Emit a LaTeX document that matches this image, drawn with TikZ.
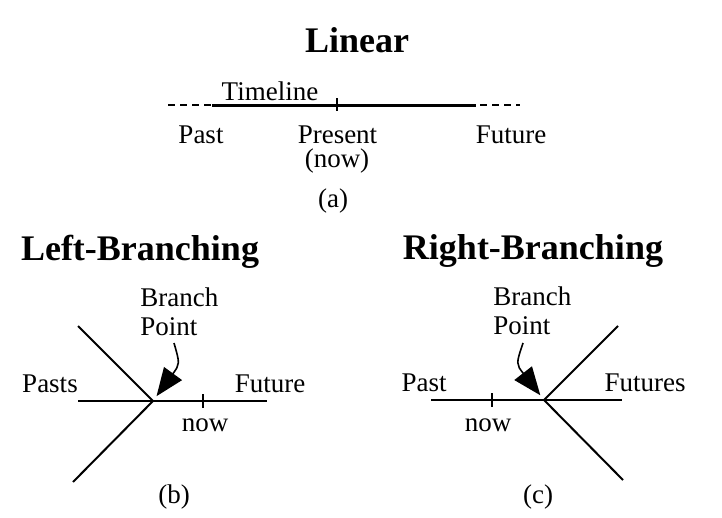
\documentclass[tikz,border=0pt]{standalone}
\usepackage{fontspec}
\setmainfont{Liberation Serif}
\usetikzlibrary{arrows.meta}
\tikzset{
	lbl/.style={font=\fontsize{13.5}{14.5}\selectfont, inner sep=0pt, anchor=base},
	ttl/.style={font=\fontsize{18}{20}\selectfont\bfseries, inner sep=0pt, anchor=base},
	ln/.style={line width=1pt},
	tl/.style={line width=1.4pt},
	dsh/.style={line width=1pt, dash pattern=on 3.5pt off 2.5pt},
	bparrow/.style={line width=0.8pt, shorten >=3pt, -{Triangle[length=14pt,width=11pt]}},
}

\begin{document}
\begin{tikzpicture}[x=0.5pt,y=-0.5pt]
			\useasboundingbox (0,0) rectangle (722,518);
			%%%%% LINEAR %%%%%
			
			\node[ttl] (linear) at (357,53) {Linear};
			
			\coordinate (t0) at (168,105.5);
			\coordinate (t1) at (212,105.5);
			\coordinate (tnow) at (337,105.5);
			\coordinate (t2) at (476,105.5);
			\coordinate (t3) at (480,105.5);
			\coordinate (t4) at (520,105.5);
			\draw[dsh] (t0) -- (t1);
			\draw[tl] (t1) -- (t2);
			\draw[dsh] (t3) -- (t4);
			\draw[ln] (tnow) ++(0,-7) -- ++(0,13);
			
			\node[lbl] (timeline) at (270,100.5) {Timeline};
			\node[lbl] (past) at (201,144) {Past};
			\node[lbl] (present) at (337.5,144) {Present};
			\node[lbl] (presnow) at (337,168) {(now)};
			\node[lbl] (future) at (511,144) {Future};
			\node[lbl] (capa) at (333,207) {(a)};
			
			%%%%% LEFT-BRANCHING %%%%%
			
			\node[ttl] (leftttl) at (140,260) {Left-Branching};
			
			\coordinate (lbp) at (153,401);
			\coordinate (lpu) at (78,326);
			\coordinate (lpd) at (73,482);
			\coordinate (lh0) at (78,401);
			\coordinate (lh1) at (267,401);
			\coordinate (lnow) at (203,401);
			\draw[ln] (lpu) -- (lbp) -- (lpd);
			\draw[ln] (lh0) -- (lh1);
			\draw[ln] (lnow) ++(0,-7) -- ++(0,14);
			
			\node[lbl] (lpasts) at (50,392) {Pasts};
			\node[lbl] (lfuture) at (270,392) {Future};
			\node[lbl] (lnowtxt) at (205,431) {now};
			\node[lbl, anchor=base west, align=left, font=\fontsize{13.5}{14.5}\selectfont] (lbptxt) at (140,335) {Branch\\Point};
			\coordinate (larrow) at (174,343);
			\draw[bparrow] (larrow) .. controls (180,364) .. (lbp);
			\node[lbl] (capb) at (174,503) {(b)};
			
			%%%%% RIGHT-BRANCHING %%%%%
			
			\node[ttl] (rightttl) at (533,259) {Right-Branching};
			
			\coordinate (rbp) at (544,400);
			\coordinate (rfu) at (618,326);
			\coordinate (rfd) at (623,480);
			\coordinate (rh0) at (431,400);
			\coordinate (rh1) at (622,400);
			\coordinate (rnow) at (492,400);
			\draw[ln] (rfu) -- (rbp) -- (rfd);
			\draw[ln] (rh0) -- (rh1);
			\draw[ln] (rnow) ++(0,-7) -- ++(0,14);
			
			\node[lbl] (rpast) at (424,391) {Past};
			\node[lbl] (rfutures) at (645,391) {Futures};
			\node[lbl] (rnowtxt) at (488,431) {now};
			\node[lbl, anchor=base west, align=left, font=\fontsize{13.5}{14.5}\selectfont] (rbptxt) at (493,334) {Branch\\Point};
			\coordinate (rarrow) at (523,343);
			\draw[bparrow] (rarrow) .. controls (516,364) .. (rbp);
			\node[lbl] (capc) at (538,503) {(c)};
			
			%%%%% END %%%%%
\end{tikzpicture}
\end{document}
